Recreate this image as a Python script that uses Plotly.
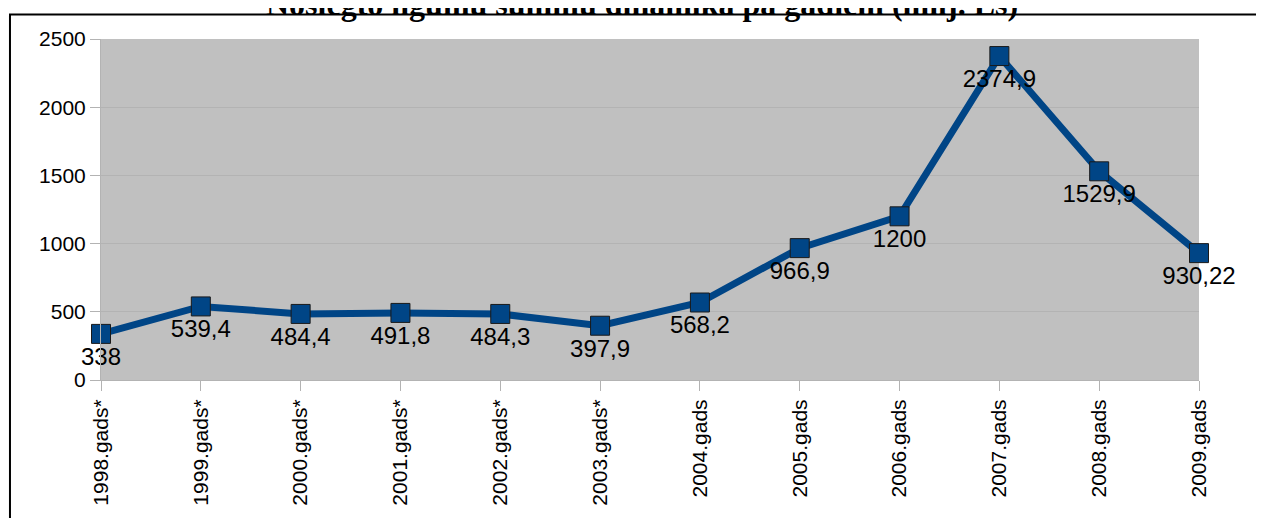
import plotly.graph_objects as go

years = ["1998.gads*", "1999.gads*", "2000.gads*", "2001.gads*", "2002.gads*",
         "2003.gads*", "2004.gads", "2005.gads", "2006.gads", "2007.gads",
         "2008.gads", "2009.gads"]
sums = [338, 539.4, 484.4, 491.8, 484.3, 397.9, 568.2, 966.9, 1200, 2374.9, 1529.9, 930.22]
y_ticks = [0, 500, 1000, 1500, 2000, 2500]

labels = [f"{v:g}".replace(".", ",") for v in sums]
x_pos = list(range(len(years)))

fig = go.Figure()
fig.add_trace(go.Scatter(
    x=x_pos,
    y=sums,
    mode="lines+markers+text",
    line=dict(color="#004586", width=7),
    marker=dict(symbol="square", size=19, color="#004586",
                line=dict(color="#1a1a1a", width=1)),
    text=labels,
    textposition="bottom center",
    textfont=dict(family="Liberation Sans", size=24, color="#000000"),
    cliponaxis=False,
    showlegend=False,
))

# page body adds an 8px offset, so the figure is 8px smaller each way
fig.update_layout(
    width=1256,
    height=510,
    margin=dict(l=93, r=65, t=31, b=131),
    paper_bgcolor="white",
    plot_bgcolor="#c0c0c0",
    font=dict(family="Liberation Sans", size=21, color="#000000"),
    xaxis=dict(
        range=[0, len(years) - 1],
        tickvals=x_pos,
        ticktext=years,
        tickangle=-90,
        ticks="outside",
        ticklen=10,
        tickcolor="#b3b3b3",
        showline=True,
        linecolor="#b3b3b3",
        showgrid=False,
        zeroline=False,
    ),
    yaxis=dict(
        range=[0, 2500],
        tickvals=y_ticks,
        ticktext=[str(t) for t in y_ticks],
        ticks="outside",
        ticklen=10,
        tickcolor="#b3b3b3",
        showline=True,
        linecolor="#b3b3b3",
        gridcolor="#b3b3b3",
        zeroline=False,
    ),
    annotations=[dict(
        text="<b>Noslēgto līgumu summu dinamika pa gadiem (milj. Ls)</b>",
        xref="paper", yref="paper",
        x=0.4927, y=1.0435,
        xanchor="center", yanchor="bottom",
        showarrow=False,
        font=dict(family="Liberation Serif", size=32, color="#000000"),
    )],
    shapes=[dict(
        type="rect", xref="paper", yref="paper",
        x0=-0.0829, x1=1.1, y0=-0.5, y1=1.0718,
        line=dict(color="#000000", width=2),
        layer="below",
    )],
)

fig.write_html("out.html")
